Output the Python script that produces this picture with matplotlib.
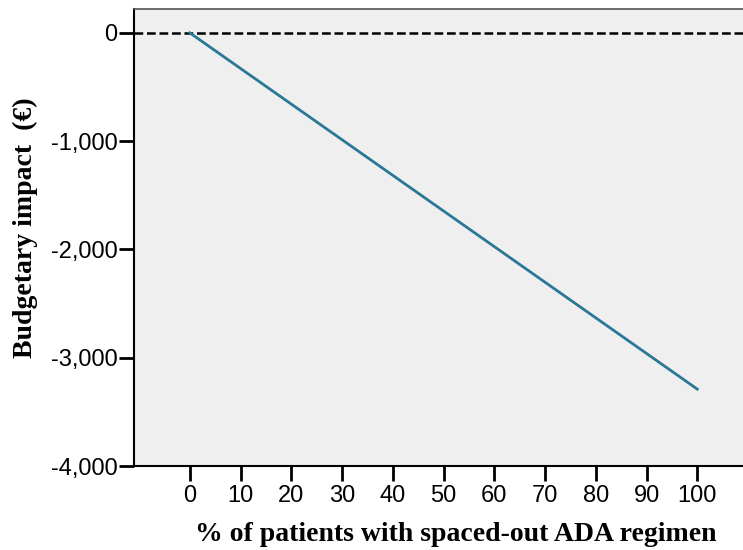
import matplotlib.pyplot as plt
from matplotlib.ticker import FuncFormatter

# % of patients with spaced-out regimen vs budgetary impact
pct_patients = [0, 100]
budget_impact = [0, -3290]
x_ticks = [0, 10, 20, 30, 40, 50, 60, 70, 80, 90, 100]
y_ticks = [0, -1000, -2000, -3000, -4000]

fig = plt.figure(figsize=(7.43, 5.5), dpi=100)
ax = fig.add_axes([0.1803, 0.1527, 0.8197, 0.8309])
ax.set_facecolor("#efefef")

ax.axhline(0, color="black", linestyle=(0, (3.5, 1.5)), linewidth=1.8, zorder=2)
ax.plot(pct_patients, budget_impact, color="#2a7796", linewidth=2, zorder=3)

ax.set_xlim(-11, 109)
ax.set_ylim(-4000, 220)
ax.set_xticks(x_ticks)
ax.set_yticks(y_ticks)
ax.yaxis.set_major_formatter(FuncFormatter(lambda v, p: f"{int(v):,}"))

for lab in ax.get_xticklabels() + ax.get_yticklabels():
    lab.set_fontfamily("Liberation Sans")
    lab.set_fontsize(17)
ax.tick_params(axis="both", length=11, width=2, color="black")
ax.tick_params(axis="x", pad=3)
ax.tick_params(axis="y", pad=1)

ax.spines["left"].set_linewidth(1.5)
ax.spines["bottom"].set_linewidth(1.5)
ax.spines["top"].set_color("#555555")
ax.spines["top"].set_linewidth(1.2)
ax.spines["right"].set_visible(False)

ax.set_xlabel("% of patients with spaced-out ADA regimen", fontfamily="Liberation Serif",
              fontweight="bold", fontsize=20)
ax.set_ylabel("Budgetary impact  (\u20ac)", fontfamily="Liberation Serif",
              fontweight="bold", fontsize=20)
ax.xaxis.set_label_coords(0.529, -0.122)
ax.yaxis.set_label_coords(-0.158, 0.521)

fig.savefig("out.png", dpi=100)
